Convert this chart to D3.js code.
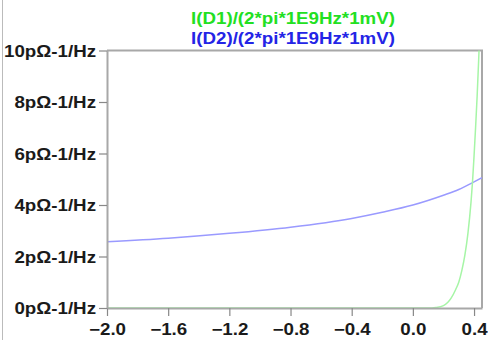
<!DOCTYPE html>
<html>
<head>
<meta charset="utf-8">
<script src="https://cdn.jsdelivr.net/npm/d3@7"></script>
<style>
  body { margin: 0; background: #fff; }
  svg text { font-family: "Liberation Sans", Arial, sans-serif; font-weight: bold; }
</style>
</head>
<body>
<div id="chart"></div>
<script>
// bias voltage (V) and conductance-ish values (pΩ-1/Hz)
var d2Volts = [-2.0, -1.6, -1.2, -0.8, -0.4, -0.2, 0.0, 0.2, 0.3, 0.4, 0.452];
var d2Vals  = [2.57, 2.71, 2.90, 3.14, 3.48, 3.72, 4.00, 4.38, 4.60, 4.90, 5.06];

var d1Volts = [-2.0, 0.10, 0.15, 0.20, 0.25, 0.28, 0.30, 0.32, 0.34, 0.36, 0.38, 0.39, 0.40, 0.41, 0.42, 0.43, 0.44];
var d1Vals  = [0.0, 0.0, 0.02, 0.09, 0.38, 0.72, 1.00, 1.45, 2.05, 2.90, 4.10, 4.90, 5.90, 7.00, 8.20, 9.60, 11.2];

var xTicks = [-2.0, -1.6, -1.2, -0.8, -0.4, 0.0, 0.4];
var yTicks = [0, 2, 4, 6, 8, 10];
var legendLabels = ["I(D1)/(2*pi*1E9Hz*1mV)", "I(D2)/(2*pi*1E9Hz*1mV)"];

var width = 488, height = 340;
var stretch = 1.17;   // the original text is a bit wider than Liberation

var x = d3.scaleLinear().domain([-2, 0.452]).range([107, 482]);
var y = d3.scaleLinear().domain([0, 10]).range([308, 50.5]);

var svg = d3.select("#chart").append("svg")
    .attr("width", width)
    .attr("height", height);

function widen(sel) {
    sel.each(function() {
        var len = this.getComputedTextLength();
        d3.select(this).attr("textLength", len * stretch).attr("lengthAdjust", "spacingAndGlyphs");
    });
}

// left window edge
svg.append("line")
    .attr("x1", 2.5).attr("x2", 2.5).attr("y1", 0).attr("y2", height)
    .attr("stroke", "#bbb").attr("stroke-width", 1);

// plot frame (top and right)
svg.append("path")
    .attr("d", "M" + x.range()[0] + "," + y.range()[1] + "H" + x.range()[1] + "V" + y.range()[0])
    .attr("fill", "none").attr("stroke", "#a8a8a8").attr("stroke-width", 2);

svg.append("clipPath").attr("id", "plotclip")
    .append("rect")
    .attr("x", x.range()[0]).attr("y", y.range()[1])
    .attr("width", x.range()[1] - x.range()[0])
    .attr("height", y.range()[0] - y.range()[1]);

var line = d3.line()
    .x(function(d) { return x(d[0]); })
    .y(function(d) { return y(d[1]); })
    .curve(d3.curveMonotoneX);

var g = svg.append("g").attr("clip-path", "url(#plotclip)");

g.append("path")
    .datum(d2Volts.map(function(v, i) { return [v, d2Vals[i]]; }))
    .attr("d", line)
    .attr("fill", "none").attr("stroke", "#9a9aff").attr("stroke-width", 1.5);

g.append("path")
    .datum(d1Volts.map(function(v, i) { return [v, d1Vals[i]]; }))
    .attr("d", line)
    .attr("fill", "none").attr("stroke", "#a6f5a6").attr("stroke-width", 1.5);

// axes
var xAxis = svg.append("g")
    .attr("transform", "translate(0," + y.range()[0] + ")")
    .call(d3.axisBottom(x).tickValues(xTicks).tickSize(8).tickPadding(5)
        .tickFormat(d3.format(".1f")).tickSizeOuter(0));

var yAxis = svg.append("g")
    .attr("transform", "translate(" + x.range()[0] + ",0)")
    .call(d3.axisLeft(y).tickValues(yTicks).tickSize(8).tickPadding(3)
        .tickFormat(function(d) { return d + "p\u03A9-1/Hz"; }).tickSizeOuter(0));

[xAxis, yAxis].forEach(function(a) {
    a.select(".domain").attr("stroke", "#a8a8a8").attr("stroke-width", 2);
    a.selectAll(".tick line").attr("stroke", "#888").attr("stroke-width", 1.2);
    a.selectAll(".tick text")
        .attr("fill", "#1a1a1a")
        .style("font-size", "16px")
        .style("font-family", "'Liberation Sans', Arial, sans-serif")
        .style("font-weight", "bold");
});
xAxis.selectAll(".tick text").attr("dy", "0.9em");
yAxis.selectAll(".tick text").attr("dy", "0.36em");
xAxis.selectAll(".tick text").call(widen);
yAxis.selectAll(".tick text").call(widen);

// legend
svg.selectAll(".legend")
    .data(legendLabels)
    .enter().append("text")
    .attr("class", "legend")
    .attr("x", 293)
    .attr("y", function(d, i) { return 24 + i * 20; })
    .attr("text-anchor", "middle")
    .style("font-size", "16px")
    .attr("fill", function(d, i) { return i === 0 ? "#22e022" : "#2424e6"; })
    .text(function(d) { return d; })
    .call(widen);
</script>
</body>
</html>
